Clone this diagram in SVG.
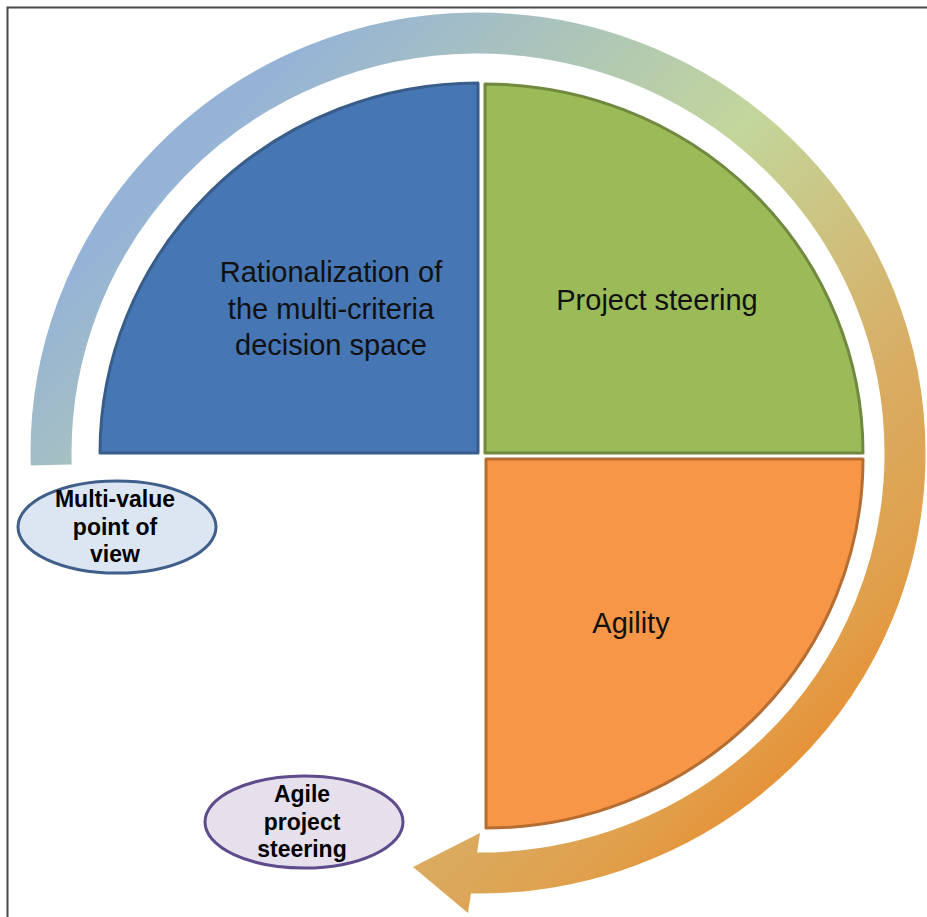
<svg xmlns="http://www.w3.org/2000/svg" width="927" height="917" viewBox="0 0 927 917">
<style>
.q{stroke-width:3;stroke-linejoin:round}
.qt{font-family:"Liberation Sans",Arial,sans-serif;font-size:29px;fill:#111;text-anchor:middle}
.et{font-family:"Liberation Sans",Arial,sans-serif;font-size:23px;font-weight:bold;fill:#000;text-anchor:middle}
.ell{stroke-width:3}
</style>
<defs>
<linearGradient id="ring" gradientUnits="userSpaceOnUse" x1="100" y1="50" x2="900" y2="850">
<stop offset="0" stop-color="#95B3D7"/>
<stop offset="0.12" stop-color="#95B3D7"/>
<stop offset="0.45" stop-color="#C3D69B"/>
<stop offset="0.7" stop-color="#D9AC62"/>
<stop offset="0.82" stop-color="#E0A04C"/>
<stop offset="0.92" stop-color="#E98A2C"/>
<stop offset="1" stop-color="#E98A2C"/>
</linearGradient>
</defs>
<rect width="927" height="917" fill="#fff"/>
<path d="M7.5 917 V7.5 H927" fill="none" stroke="#4a4a4a" stroke-width="2"/>
<g id="connectors">
<path d="M51.2 465 A427 420 0 1 1 470 873" fill="none" stroke="url(#ring)" stroke-width="41"/>
<polygon points="413,867 480,833 468,913" fill="url(#ring)"/>
</g>
<g id="node-rationalization">
<path class="q" d="M478 453 L100 453 A378 370 0 0 1 478 83 Z" fill="#4676B4" stroke="#385D8A"/>
<text class="qt" x="331" y="282">Rationalization of</text>
<text class="qt" x="331" y="319">the multi-criteria</text>
<text class="qt" x="331" y="355">decision space</text>
</g>
<g id="node-steering">
<path class="q" d="M485 453 L485 84 A378 369 0 0 1 863 453 Z" fill="#9BBB59" stroke="#71893F"/>
<text class="qt" x="657" y="310">Project steering</text>
</g>
<g id="node-agility">
<path class="q" d="M486 459 L863 459 A377 369 0 0 1 486 828 Z" fill="#F79646" stroke="#B66D31"/>
<text class="qt" x="631" y="633">Agility</text>
</g>
<g id="node-multivalue">
<ellipse class="ell" cx="117" cy="527" rx="99" ry="46" fill="#DCE6F2" stroke="#3F5F8A"/>
<text class="et" x="115" y="507">Multi-value</text>
<text class="et" x="115" y="535">point of</text>
<text class="et" x="115" y="562">view</text>
</g>
<g id="node-agile">
<ellipse class="ell" cx="304" cy="822" rx="99" ry="46" fill="#E5E0EC" stroke="#5F4B8B"/>
<text class="et" x="302" y="802">Agile</text>
<text class="et" x="302" y="830">project</text>
<text class="et" x="302" y="857">steering</text>
</g>
</svg>
